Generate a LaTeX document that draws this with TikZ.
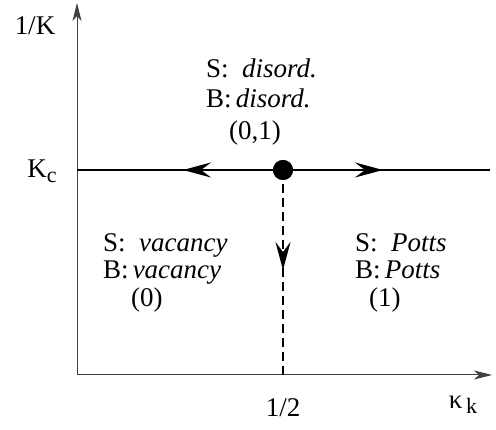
\documentclass[tikz,border=0pt]{standalone}
\usepackage{fontspec}
\setmainfont{Liberation Serif}
\usetikzlibrary{arrows.meta,decorations.markings}
\begin{document}
\begin{tikzpicture}[x=1pt,y=-1pt,
  lbl/.style={inner sep=0pt,font=\fontsize{27}{31}\selectfont},
  axis/.style={line width=1pt,draw=black!75,-{Stealth[length=18pt,width=9pt,inset=5pt]}},
  flowtip/.style={decoration={markings,mark=at position 100pt with {\arrow[solid]{Stealth[length=28pt,width=15pt,inset=10pt]}}},postaction={decorate}},
  flowline/.style={line width=2.2pt,flowtip}]
\useasboundingbox (0,0) rectangle (496,430);
\coordinate (o) at (77,375);
\coordinate (ytop) at (77,3);
\coordinate (xend) at (492,375);
\coordinate (kl) at (77,170);
\coordinate (kr) at (490,170);
\coordinate (half) at (283,375);
\node[circle,fill=black,minimum size=20pt,inner sep=0pt] (dot) at (283,170) {};
\draw[axis] (o) -- (ytop);
\draw[axis] (o) -- (xend);
\draw[flowline] (dot.center) -- (kl);
\draw[flowline] (dot.center) -- (kr);
\draw[flowline,dash pattern=on 9pt off 5pt] (dot.center) -- (half);
\node[circle,fill=black,minimum size=20pt,inner sep=0pt] at (dot) {};
% axis labels
\node[lbl,anchor=base] (yl) at (35,35) {1/K};
\node[lbl,anchor=base] (kc) at (42,178) {K\raisebox{-0.35ex}{\fontsize{22}{26}\selectfont c}};
\node[lbl,anchor=base] (hl) at (283,417) {1/2};
\node[lbl,anchor=base] (kk) at (463,409) {κ\raisebox{-0.35ex}{\fontsize{22}{26}\selectfont\,k}};
% top block
\node[lbl,anchor=base west] (t1) at (206,78) {S:\hspace{0.5em}\textit{disord.}};
\node[lbl,anchor=base west] (t2) at (206,108) {B:\hspace{0.15em}\textit{disord.}};
\node[lbl,anchor=base west] (t3) at (229,140) {(0,1)};
% left block
\node[lbl,anchor=base west] (l1) at (103,252) {S:\hspace{0.5em}\textit{vacancy}};
\node[lbl,anchor=base west] (l2) at (103,279) {B:\hspace{0.15em}\textit{vacancy}};
\node[lbl,anchor=base west] (l3) at (131,307) {(0)};
% right block
\node[lbl,anchor=base west] (r1) at (355,252) {S:\hspace{0.5em}\textit{Potts}};
\node[lbl,anchor=base west] (r2) at (355,279) {B:\hspace{0.15em}\textit{Potts}};
\node[lbl,anchor=base west] (r3) at (369,307) {(1)};
\end{tikzpicture}
\end{document}
